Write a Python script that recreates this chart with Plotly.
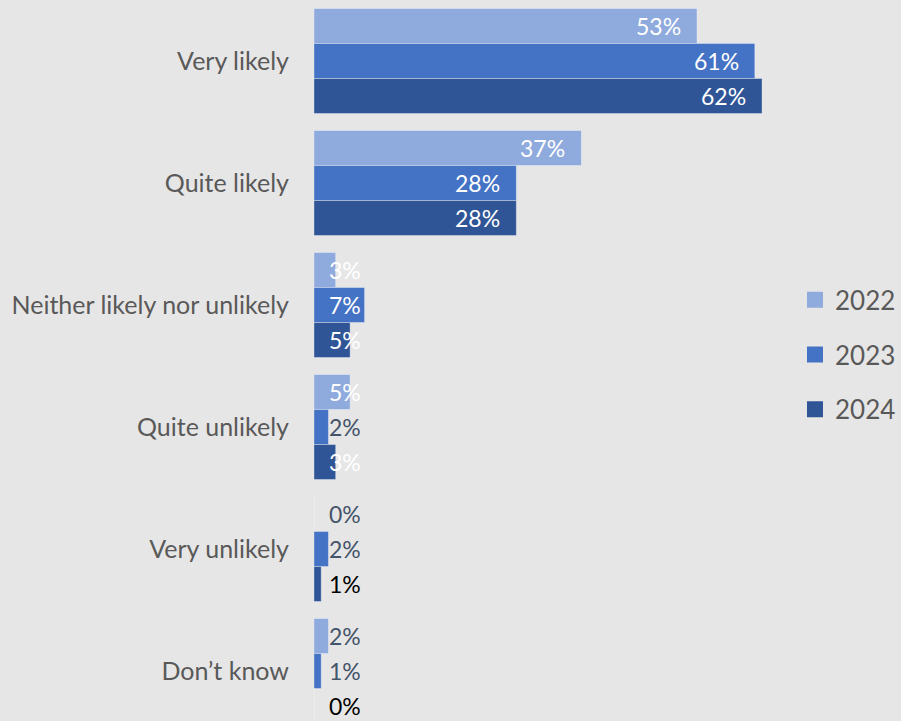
import plotly.graph_objects as go

# Survey responses by year (percent of respondents)
categories = ["Very likely", "Quite likely", "Neither likely nor unlikely",
              "Quite unlikely", "Very unlikely", "Don\u2019t know"]
years = ["2022", "2023", "2024"]
values_2022 = [53, 37, 3, 5, 0, 2]
values_2023 = [61, 28, 7, 2, 2, 1]
values_2024 = [62, 28, 5, 3, 1, 0]

series = [values_2022, values_2023, values_2024]
bar_colors = ["#8faadc", "#4472c4", "#2f5597"]

# data-label colours per series (white on bars, dark where the label sits on the background)
label_colors = [
    ["white", "white", "white", "white", "#44546a", "#44546a"],
    ["white", "white", "white", "#44546a", "#44546a", "#44546a"],
    ["white", "white", "white", "white", "black", "black"],
]

BG = "#e7e6e6"
FONT = "Lato"
BAR_PX = 35

fig = go.Figure()

for name, vals, col in zip(years, series, bar_colors):
    fig.add_trace(go.Bar(
        x=vals, y=categories, orientation="h", name=name,
        marker=dict(color=col, line=dict(color="rgba(255,255,255,0.35)", width=1)),
        showlegend=False, hoverinfo="skip",
    ))

# legend swatches
for name, col in zip(years, bar_colors):
    fig.add_trace(go.Scatter(
        x=[None], y=[None], mode="markers", name=name, legendgroup=name,
        marker=dict(symbol="square", size=16, color=col),
    ))

# data labels: inside the bar end when the bar is long enough, otherwise from the axis
annotations = []
shifts = [BAR_PX, 0, -BAR_PX]
for s, vals in enumerate(series):
    for c, v in enumerate(vals):
        inside = v >= 10
        annotations.append(dict(
            x=v if inside else 0, y=categories[c], xref="x", yref="y",
            text=f"{v}%", showarrow=False,
            xanchor="right" if inside else "left",
            xshift=-14 if inside else 13, yshift=shifts[s],
            font=dict(family=FONT, size=23, color=label_colors[s][c]),
        ))

fig.update_layout(
    width=901, height=721,
    margin=dict(l=314, r=112, t=0, b=0),
    paper_bgcolor=BG, plot_bgcolor=BG,
    barmode="group", bargap=0.139, bargroupgap=0,
    font=dict(family=FONT, color="#595959"),
    xaxis=dict(range=[0, 65.73], visible=False, fixedrange=True),
    yaxis=dict(type="category", categoryorder="array", categoryarray=categories,
               range=[-0.5 + 721 / 122, -0.5], showgrid=False, showline=False,
               zeroline=False, ticks="", ticklabelstandoff=24,
               tickfont=dict(family=FONT, size=25, color="#595959")),
    legend=dict(x=1.0126, xanchor="left", y=0.508, yanchor="middle",
                font=dict(family=FONT, size=26, color="#595959"),
                tracegroupgap=18, bgcolor="rgba(0,0,0,0)"),
    annotations=annotations,
    showlegend=True,
)

fig.write_html("out.html")
